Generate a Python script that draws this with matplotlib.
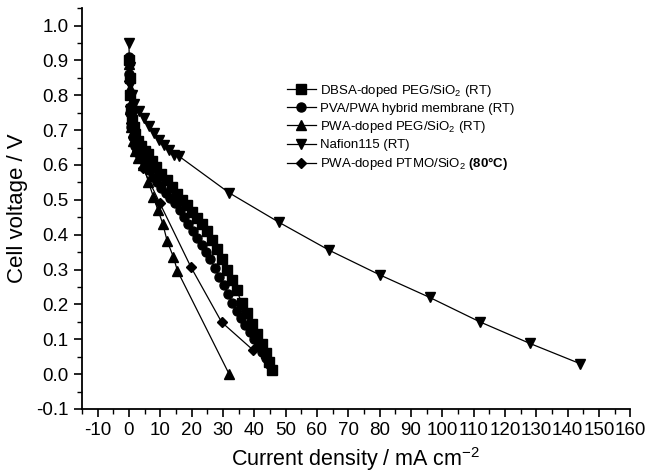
import matplotlib.pyplot as plt
from matplotlib.ticker import MultipleLocator

plt.rcParams['font.family'] = 'Liberation Sans'
plt.rcParams['mathtext.fontset'] = 'custom'
plt.rcParams['mathtext.rm'] = 'Liberation Sans'
plt.rcParams['mathtext.bf'] = 'Liberation Sans:bold'

# DBSA-doped PEG/SiO2 (RT)
dbsa_x = [0, 0.2, 0.4, 0.6, 1, 1.5, 2, 3, 4, 5, 6.2, 7.5, 8.8, 10.4, 12, 13.6, 15.2, 16.8,
          18.4, 20, 21.6, 23.2, 24.8, 26.4, 28, 29.6, 31.2, 32.8, 34.4, 36, 37.6, 39.2,
          40.8, 42.4, 43.6, 44.6, 45.7]
dbsa_y = [0.90, 0.85, 0.80, 0.76, 0.73, 0.71, 0.69, 0.67, 0.655, 0.64, 0.63, 0.61, 0.595,
          0.575, 0.557, 0.537, 0.518, 0.50, 0.485, 0.466, 0.447, 0.43, 0.41, 0.385, 0.36,
          0.33, 0.30, 0.27, 0.24, 0.205, 0.175, 0.145, 0.115, 0.085, 0.06, 0.035, 0.012]

# PVA/PWA hybrid membrane (RT)
pva_x = [0, 0.1, 0.3, 0.5, 0.8, 1.2, 2, 3, 4, 5.1, 6.4, 7.8, 9, 10.4, 11.8, 13.2, 14.7,
         16.2, 17.6, 19, 20.4, 21.8, 23.2, 24.6, 26, 27.4, 28.8, 30.2, 31.6, 33, 34.4,
         35.8, 37.2, 38.6, 40, 41.2, 42.4, 43.6, 44.6]
pva_y = [0.91, 0.86, 0.80, 0.75, 0.71, 0.68, 0.655, 0.635, 0.62, 0.605, 0.585, 0.565, 0.55,
         0.535, 0.52, 0.505, 0.49, 0.47, 0.45, 0.43, 0.41, 0.39, 0.37, 0.35, 0.33, 0.305,
         0.28, 0.255, 0.23, 0.205, 0.18, 0.16, 0.14, 0.12, 0.10, 0.08, 0.063, 0.045, 0.03]

# PWA-doped PEG/SiO2 (RT)
pwa_peg_x = [0, 0.2, 0.4, 0.7, 1.2, 2, 3, 4.6, 6.2, 7.8, 9.2, 10.8, 12.2, 14.2, 15.5, 32]
pwa_peg_y = [0.89, 0.82, 0.76, 0.71, 0.67, 0.64, 0.62, 0.60, 0.552, 0.509, 0.472, 0.432,
             0.382, 0.336, 0.296, 0.0]

# Nafion115 (RT)
nafion_x = [0, 0.2, 0.5, 1.0, 1.6, 3.2, 4.8, 6.4, 8.0, 9.6, 11.2, 12.8, 14.4, 16,
            32, 48, 64, 80, 96, 112, 128, 144]
nafion_y = [0.95, 0.88, 0.83, 0.80, 0.775, 0.755, 0.735, 0.713, 0.693, 0.673, 0.657,
            0.642, 0.628, 0.625, 0.52, 0.435, 0.355, 0.285, 0.22, 0.15, 0.088, 0.03]

# PWA-doped PTMO/SiO2 (80 C)
ptmo_x = [0, 0.3, 0.6, 1.2, 2.5, 4.5, 9.9, 19.8, 29.6, 39.5]
ptmo_y = [0.84, 0.77, 0.72, 0.68, 0.64, 0.59, 0.49, 0.307, 0.149, 0.07]

labels = ['DBSA-doped PEG/SiO$_2$ (RT)',
          'PVA/PWA hybrid membrane (RT)',
          'PWA-doped PEG/SiO$_2$ (RT)',
          'Nafion115 (RT)',
          'PWA-doped PTMO/SiO$_2$ $\\mathbf{(80°C)}$']

fig = plt.figure(figsize=(6.45, 4.75), dpi=100)
ax = fig.add_axes([0.127, 0.139, 0.85, 0.844])

series = [(dbsa_x, dbsa_y, 's'), (pva_x, pva_y, 'o'), (pwa_peg_x, pwa_peg_y, '^'),
          (nafion_x, nafion_y, 'v'), (ptmo_x, ptmo_y, 'D')]
for (xs, ys, m), lab in zip(series, labels):
    ax.plot(xs, ys, color='black', lw=0.9, marker=m,
            markersize=5.5 if m == 'D' else 6.5, label=lab)

ax.set_xlim(-15, 160)
ax.set_ylim(-0.1, 1.05)
ax.xaxis.set_minor_locator(MultipleLocator(5))
ax.yaxis.set_minor_locator(MultipleLocator(0.05))
ax.set_yticks([i / 10 for i in range(-1, 11)])
ax.set_yticklabels(['%.1f' % (i / 10) for i in range(-1, 11)])
ax.set_xticks(range(-10, 161, 10))
ax.set_xticklabels([str(v) for v in range(-10, 161, 10)])

ax.spines['top'].set_visible(False)
ax.spines['right'].set_visible(False)
ax.spines['left'].set_linewidth(1.3)
ax.spines['bottom'].set_linewidth(1.3)
ax.tick_params(which='major', direction='out', length=6, width=1.2, labelsize=13.5)
ax.tick_params(which='minor', direction='out', length=3.5, width=1.0)

ax.set_xlabel('Current density / mA cm$^{-2}$', fontsize=15.5, labelpad=4)
ax.set_ylabel('Cell voltage / V', fontsize=16, labelpad=6)

ax.legend(loc='upper left', bbox_to_anchor=(0.362, 0.83), frameon=False, fontsize=9.5,
          handlelength=2.2, handletextpad=0.3, labelspacing=0.3, borderpad=0)

fig.savefig('out.png', dpi=100)
